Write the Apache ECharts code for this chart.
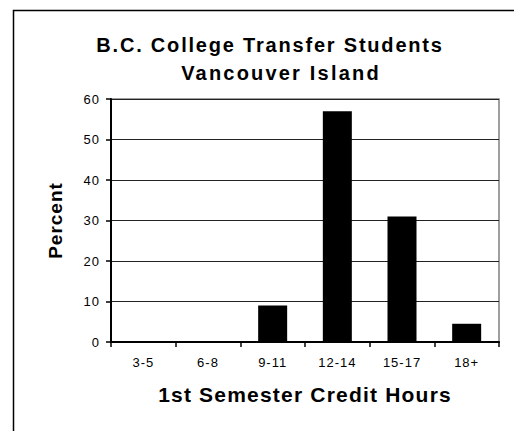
<!DOCTYPE html>
<html>
<head>
<meta charset="utf-8">
<script src="https://cdn.jsdelivr.net/npm/echarts@6/dist/echarts.min.js"></script>
<style>
  html, body { margin: 0; padding: 0; background: #fff; }
  #chart { width: 514px; height: 431px; }
</style>
</head>
<body>
<div id="chart"></div>
<script>
// categories and values
const CATEGORIES = ['3-5', '6-8', '9-11', '12-14', '15-17', '18+']
const PERCENT = [0, 0, 9, 57, 31, 4.5]
const TITLE_LINES = ['B.C. College Transfer Students', 'Vancouver Island']
const X_NAME = '1st Semester Credit Hours'
const Y_NAME = 'Percent'

const FONT = '"Liberation Sans", Arial, sans-serif'

// the original text is set wide (Excel style), so open it up a little
const SPACING = {
  [TITLE_LINES[0]]: 1.8,
  [TITLE_LINES[1]]: 2.2,
  [X_NAME]: 1.2,
  [Y_NAME]: 1,
}
const LABEL_SPACING = 1

const chart = echarts.init(document.getElementById('chart'), null, { renderer: 'svg' })

chart.setOption({
  backgroundColor: '#fff',
  animation: false,
  title: [
    {
      text: TITLE_LINES[0], left: 265, top: 30, textAlign: 'center',
      textStyle: { fontFamily: FONT, fontSize: 20, fontWeight: 'bold', color: '#000' },
    },
    {
      text: TITLE_LINES[1], left: 276, top: 58, textAlign: 'center',
      textStyle: { fontFamily: FONT, fontSize: 20, fontWeight: 'bold', color: '#000' },
    },
  ],
  // outer frame (right/bottom edges fall outside the picture)
  graphic: [{
    type: 'rect', left: 11, top: 8, shape: { width: 600, height: 500 },
    style: { fill: 'none', stroke: '#000', lineWidth: 1.5 }, silent: true,
  }],
  grid: {
    left: 111, right: 15, top: 99, bottom: 89,
    show: true, borderColor: '#808080', borderWidth: 1.5,
  },
  xAxis: {
    type: 'category',
    data: CATEGORIES,
    name: X_NAME,
    nameLocation: 'middle',
    nameGap: 42,
    nameTextStyle: { fontFamily: FONT, fontSize: 21, fontWeight: 'bold', color: '#000' },
    axisLine: { lineStyle: { color: '#000', width: 2 } },
    axisTick: { show: true, length: 5, lineStyle: { color: '#000', width: 1.5 } },
    axisLabel: { fontFamily: FONT, fontSize: 13, color: '#000', margin: 14 },
    splitLine: { show: false },
  },
  yAxis: {
    type: 'value',
    min: 0, max: 60, interval: 10,
    name: Y_NAME,
    nameLocation: 'middle',
    nameGap: 46,
    nameRotate: 90,
    nameTextStyle: { fontFamily: FONT, fontSize: 19, fontWeight: 'bold', color: '#000' },
    axisLine: { show: true, lineStyle: { color: '#000', width: 2 } },
    axisTick: { show: true, length: 5, lineStyle: { color: '#000', width: 1.5 } },
    axisLabel: { fontFamily: FONT, fontSize: 13, color: '#000', margin: 11 },
    splitLine: { lineStyle: { color: '#222', width: 1.2 } },
  },
  series: [{
    type: 'bar',
    data: PERCENT,
    barWidth: 29,
    itemStyle: { color: '#000' },
  }],
})

function spaceText() {
  document.querySelectorAll('#chart svg text').forEach(t => {
    const s = SPACING[t.textContent]
    t.style.letterSpacing = (s != null ? s : LABEL_SPACING) + 'px'
  })
}
spaceText()
chart.on('finished', spaceText)
</script>
</body>
</html>
